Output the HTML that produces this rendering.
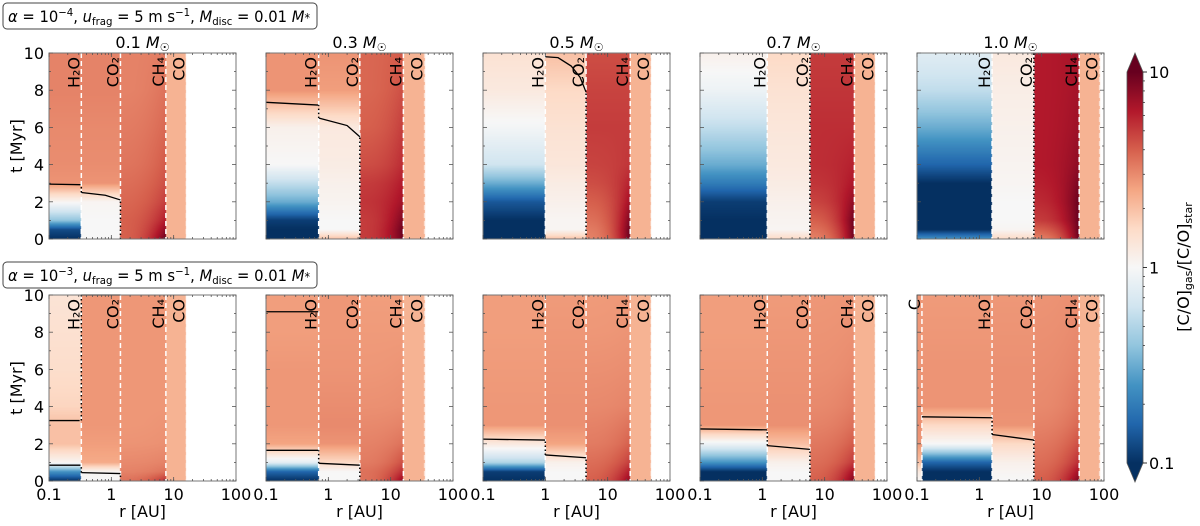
<!DOCTYPE html>
<html><head><meta charset="utf-8">
<style>
body{margin:0;background:#fff;width:1200px;height:526px;overflow:hidden;position:relative;font-family:"DejaVu Sans","Liberation Sans",sans-serif;}
canvas{position:absolute;}
svg{position:absolute;left:0;top:0;}
</style></head>
<body>
<div id="maps"></div>
<svg id="fig" width="1200" height="526"></svg>
<script>
// ---- data ----
const masses = ["0.1","0.3","0.5","0.7","1.0"];
const rowLabels = ["10^-4","10^-3"];
const tGrid = [0,0.5,1,2,3,4,6,8,10];
const xTicks = [0.1,1,10,100];
const xTickLabels = ["0.1","1","10","100"];
const yTicks = [0,2,4,6,8,10];
const cbTicks = [0.1,1,10];
const snowR = [
 [0.33,1.4,7.5,16],[0.7,3.2,16,35],[1.0,4.5,23,50],[1.2,5.8,30,65],[1.6,7.5,40,85],
 [0.33,1.4,7.5,16],[0.7,3.2,16,35],[1.0,4.5,23,50],[1.2,5.8,30,65],[0.12,1.6,7.5,40,85]
];
const snowNames = [
 ["H₂O","CO₂","CH₄","CO"],["H₂O","CO₂","CH₄","CO"],["H₂O","CO₂","CH₄","CO"],["H₂O","CO₂","CH₄","CO"],["H₂O","CO₂","CH₄","CO"],
 ["H₂O","CO₂","CH₄","CO"],["H₂O","CO₂","CH₄","CO"],["H₂O","CO₂","CH₄","CO"],["H₂O","CO₂","CH₄","CO"],["C","H₂O","CO₂","CH₄","CO"]
];
const regInner = [
 [[-1,-0.9,-0.4,0.02,0.45,0.47,0.48,0.5,0.5],[0,0,0,0.02,0.45,0.47,0.48,0.5,0.5],[0.6,0.6,0.6,0.58,0.56,0.54,0.52,0.5,0.5],[0.35,0.35,0.35,0.35,0.35,0.35,0.35,0.35,0.35]],
 [[-1,-1,-0.95,-0.5,-0.25,0,0.05,0.45,0.45],[0.3,0,0,0.03,0.05,0.08,0.1,0.42,0.45],[0.7,0.7,0.7,0.72,0.7,0.65,0.6,0.58,0.58],[0.35,0.35,0.35,0.35,0.35,0.35,0.35,0.35,0.35]],
 [[-1,-1,-1,-0.85,-0.5,-0.2,-0.02,0.1,0.15],[0.3,0.02,0.02,0.05,0.08,0.12,0.15,0.2,0.3],[0.5,0.52,0.55,0.6,0.65,0.68,0.7,0.68,0.65],[0.35,0.35,0.35,0.35,0.35,0.35,0.35,0.35,0.35]],
 [[-1,-1,-1,-0.95,-0.7,-0.5,-0.25,-0.05,0.05],[0.2,0.02,0.03,0.05,0.08,0.1,0.12,0.15,0.2],[0.5,0.55,0.6,0.68,0.72,0.74,0.74,0.72,0.7],[0.35,0.35,0.35,0.35,0.35,0.35,0.35,0.35,0.35]],
 [[-0.6,-1,-1,-1,-1,-0.8,-0.5,-0.25,-0.12],[0.2,0.02,0,0,0.02,0.03,0.05,0.07,0.1],[0.5,0.6,0.7,0.75,0.78,0.8,0.8,0.8,0.8],[0.35,0.35,0.35,0.35,0.35,0.35,0.35,0.35,0.35]],
 [[-1,-0.6,0.02,0.3,0.3,0.22,0.18,0.16,0.14],[0,0.02,0.38,0.42,0.44,0.44,0.44,0.44,0.44],[0.55,0.5,0.48,0.45,0.44,0.44,0.44,0.44,0.44],[0.35,0.35,0.35,0.35,0.35,0.35,0.35,0.35,0.35]],
 [[-1,-0.8,-0.1,0.4,0.44,0.44,0.44,0.42,0.42],[0,0,0.2,0.45,0.48,0.47,0.45,0.44,0.44],[0.55,0.55,0.52,0.5,0.48,0.46,0.44,0.43,0.42],[0.35,0.35,0.35,0.35,0.35,0.35,0.35,0.35,0.35]],
 [[-1,-0.95,-0.3,0.1,0.44,0.44,0.43,0.42,0.42],[0,0,0.05,0.4,0.46,0.46,0.45,0.44,0.43],[0.6,0.58,0.56,0.52,0.5,0.48,0.46,0.44,0.43],[0.35,0.35,0.35,0.35,0.35,0.35,0.35,0.35,0.35]],
 [[-1,-1,-0.6,-0.05,0.44,0.44,0.43,0.42,0.42],[0,0,0.05,0.3,0.46,0.46,0.45,0.44,0.43],[0.6,0.58,0.56,0.53,0.5,0.48,0.46,0.45,0.44],[0.35,0.35,0.35,0.35,0.35,0.35,0.35,0.35,0.35]],
 [[0,0.1,0.3,0.44,0.46,0.46,0.45,0.44,0.44],[-1,-1,-0.8,0,0.2,0.45,0.45,0.44,0.43],[0,0.02,0.05,0.2,0.45,0.46,0.46,0.45,0.44],[0.6,0.58,0.56,0.53,0.5,0.48,0.47,0.46,0.45],[0.35,0.35,0.35,0.35,0.35,0.35,0.35,0.35,0.35]]
];
const regOuter = [
 [null,null,[1,0.9,0.8,0.7,0.65,0.62,0.58,0.55,0.52],null],
 [null,null,[1,1,0.95,0.85,0.8,0.75,0.7,0.65,0.62],null],
 [null,null,[1,1,0.95,0.85,0.78,0.72,0.7,0.68,0.65],null],
 [null,null,[1,1,1,0.9,0.82,0.78,0.74,0.72,0.7],null],
 [null,null,[1,1,1,1,0.95,0.9,0.86,0.84,0.84],null],
 [null,null,[0.75,0.55,0.5,0.46,0.45,0.44,0.44,0.44,0.44],null],
 [null,null,[0.9,0.75,0.65,0.55,0.5,0.47,0.45,0.43,0.42],null],
 [null,null,[0.9,0.8,0.7,0.6,0.55,0.5,0.47,0.45,0.44],null],
 [null,null,[0.95,0.85,0.72,0.62,0.56,0.52,0.48,0.46,0.45],null],
 [null,null,null,[0.95,0.85,0.75,0.65,0.58,0.54,0.5,0.48,0.47],null]
];
const contours = [
 [[[0.1,2.95],[0.32,2.92]],[[0.33,2.5],[0.8,2.35],[1.4,2.1]]],
 [[[0.1,7.35],[0.69,7.2]],[[0.71,6.5],[2,6.1],[3.2,5.5]]],
 [[[1.0,9.8],[1.6,9.75],[2.6,9.3],[3.6,8.7],[4.5,7.9]]],
 [],
 [],
 [[[0.1,3.25],[0.31,3.25]],[[0.1,0.85],[0.32,0.85]],[[0.33,10],[1.4,10]],[[0.33,0.45],[1.4,0.4]]],
 [[[0.1,9.1],[0.69,9.1]],[[0.1,1.65],[0.69,1.65]],[[0.71,0.95],[3.2,0.85]]],
 [[[0.1,2.25],[0.99,2.2]],[[1.0,1.4],[4.5,1.25]]],
 [[[0.1,2.8],[1.19,2.75]],[[1.2,1.9],[5.8,1.7]]],
 [[[0.12,3.45],[1.59,3.4]],[[1.6,2.5],[7.5,2.2]]]
];
const dotted = [
 [[0.33,2.5,2.92],[1.4,0,2.1]],[[0.7,6.5,7.2],[3.2,0,5.5]],[[4.5,0,7.9]],[[5.8,0,10]],[[7.5,0,10]],
 [[0.33,3.25,10],[0.33,0.45,0.85],[1.4,0,0.4]],[[0.7,0.95,1.65],[3.2,0,0.85]],[[1.0,1.4,2.2],[4.5,0,1.25]],[[1.2,1.9,2.75],[5.8,0,1.7]],[[1.6,2.5,3.4],[7.5,0,2.2]]
];
// ---- geometry ----
const PX=[49,266,483,700,917], PY=[53,295], PW=187, PH=186;
function xs(p,r){return PX[p%5]+(Math.log10(r)+1)/3*PW;}
function ys(p,t){return PY[Math.floor(p/5)]+PH-t/10*PH;}
const cmapStops=["#053061","#2166ac","#4393c3","#92c5de","#d1e5f0","#f7f7f7","#fddbc7","#f4a582","#d6604d","#b2182b","#67001f"];
function hex(h){return [parseInt(h.substr(1,2),16),parseInt(h.substr(3,2),16),parseInt(h.substr(5,2),16)];}
const cst=cmapStops.map(hex);
function cmap(lv){let v=(lv+1)/2;v=Math.max(0,Math.min(1,v));const f=v*10,i=Math.min(9,Math.floor(f)),w=f-i;return cst[i].map((c,k)=>Math.round(c+(cst[i+1][k]-c)*w));}
function interpT(arr,t){for(let i=0;i<tGrid.length-1;i++){if(t<=tGrid[i+1]){const w=(t-tGrid[i])/(tGrid[i+1]-tGrid[i]);return arr[i]+(arr[i+1]-arr[i])*w;}}return arr[arr.length-1];}
const NS="http://www.w3.org/2000/svg";
const svg=document.getElementById('fig');
function el(tag,attrs,parent){const e=document.createElementNS(NS,tag);for(const k in attrs)e.setAttribute(k,attrs[k]);(parent||svg).appendChild(e);return e;}
function txt(s,attrs,parent){const e=el('text',attrs,parent);e.textContent=s;return e;}
const maps=document.getElementById('maps');
for(let p=0;p<10;p++){
  const cv=document.createElement('canvas');cv.width=PW;cv.height=PH;
  cv.style.left=PX[p%5]+'px';cv.style.top=PY[Math.floor(p/5)]+'px';
  
  
  maps.appendChild(cv);
  const ctx=cv.getContext('2d');const img=ctx.createImageData(PW,PH);
  const sr=snowR[p];
  for(let x=0;x<PW;x++){
    const lr=-1+3*(x+0.5)/PW, r=Math.pow(10,lr);
    let reg=0;while(reg<sr.length&&r>sr[reg])reg++;
    if(reg>=sr.length)continue;
    const lo=reg===0?-1:Math.log10(sr[reg-1]),hi=Math.log10(sr[reg]);
    const f=Math.pow((lr-lo)/(hi-lo),2.5);
    for(let y=0;y<PH;y++){
      const t=10*(1-(y+0.5)/PH);
      let v=interpT(regInner[p][reg],t);
      if(regOuter[p][reg]){const o=interpT(regOuter[p][reg],t);v=v+(o-v)*f;}
      const c=cmap(v);const i=(y*PW+x)*4;
      img.data[i]=c[0];img.data[i+1]=c[1];img.data[i+2]=c[2];img.data[i+3]=255;
    }
  }
  ctx.putImageData(img,0,0);
}
// ---- overlay ----
const FS=16;
for(let p=0;p<10;p++){
  const row=Math.floor(p/5),col=p%5,x0=PX[col],y0=PY[row];
  const g=el('g',{});
  
  
  snowR[p].forEach((r,i)=>{
    const x=xs(p,r);
    const ln=el('line',{x1:x,y1:y0,x2:x,y2:y0+PH,stroke:'#fff','stroke-width':1.5,'stroke-dasharray':'5,3','stroke-opacity':i===snowR[p].length-1?0.5:1},g);
    
    
    const tx=txt(snowNames[p][i],{x:0,y:0,'font-size':FS,fill:'#000','text-anchor':'end',transform:`translate(${x-2},${y0+4}) rotate(-90)`},g);
    
    
  });
  dotted[p].forEach(d=>{el('line',{x1:xs(p,d[0]),x2:xs(p,d[0]),y1:ys(p,d[1]),y2:ys(p,d[2]),stroke:'#000','stroke-width':1.5,'stroke-dasharray':'1.5,2.5'},g);});
  contours[p].forEach(seg=>{
    const c=el('polyline',{points:seg.map(q=>xs(p,q[0])+','+ys(p,q[1])).join(' '),fill:'none',stroke:'#000','stroke-width':1.3},g);
    
    
  });
  el('rect',{x:x0,y:y0,width:PW,height:PH,fill:'none',stroke:'#777','stroke-width':1},g);
  for(let d=-1;d<2;d++)for(let k=1;k<=10;k++){const r=k*Math.pow(10,d);const x=xs(p,r);const L=k===1?4:2;
    el('line',{x1:x,x2:x,y1:y0+PH,y2:y0+PH-L,stroke:'#555','stroke-width':0.8},g);
    el('line',{x1:x,x2:x,y1:y0,y2:y0+L,stroke:'#555','stroke-width':0.8},g);}
  for(let t=0;t<=10;t++){const y=ys(p,t);const L=t%2===0?4:2;
    el('line',{x1:x0,x2:x0+L,y1:y,y2:y,stroke:'#555','stroke-width':0.8},g);
    el('line',{x1:x0+PW,x2:x0+PW-L,y1:y,y2:y,stroke:'#555','stroke-width':0.8},g);}
  if(col===0){
    yTicks.forEach(t=>{const a=txt(String(t),{x:x0-5,y:ys(p,t)+6,'font-size':FS,'text-anchor':'end'},g);
      
      });
    const yl=txt('t [Myr]',{x:0,y:0,'font-size':FS,'text-anchor':'middle',transform:`translate(22,${y0+PH/2}) rotate(-90)`},g);
    
    
  }
  if(row===1){
    xTicks.forEach((r,i)=>{const a=txt(xTickLabels[i],{x:xs(p,r),y:y0+PH+19,'font-size':FS,'text-anchor':'middle'},g);
      
      });
    const xl=txt('r [AU]',{x:x0+PW/2,y:517,'font-size':FS,'text-anchor':'middle'},g);
    
    
  } else {
    const tt=el('text',{x:x0+PW/2,y:y0-5,'font-size':FS,'text-anchor':'middle'},g);
    tt.innerHTML=masses[col]+' <tspan font-style="italic">M</tspan><tspan font-size="11" dy="3">☉</tspan>';
    
    
  }
}
[[3,"−4"],[262,"−3"]].forEach((b,i)=>{
  const g=el('g',{});
  
  
  el('rect',{x:3,y:b[0],width:314,height:26,rx:4,fill:'#fff',stroke:'#444','stroke-width':1},g);
  const t=el('text',{x:8,y:b[0]+19,'font-size':16,textLength:302,lengthAdjust:'spacingAndGlyphs'},g);
  t.innerHTML='<tspan font-style="italic">α</tspan> = 10<tspan font-size="11" dy="-6">'+b[1]+'</tspan><tspan dy="6">, </tspan><tspan font-style="italic">u</tspan><tspan font-size="11" dy="3">frag</tspan><tspan dy="-3"> = 5 m s</tspan><tspan font-size="11" dy="-6">−1</tspan><tspan dy="6">, </tspan><tspan font-style="italic">M</tspan><tspan font-size="11" dy="3">disc</tspan><tspan dy="-3"> = 0.01 </tspan><tspan font-style="italic">M</tspan><tspan font-size="12">*</tspan>';
});
const cb=el('g',{});


const defs=el('defs',{},cb);
const lg=el('linearGradient',{id:'cbg',x1:0,y1:1,x2:0,y2:0},defs);
cmapStops.forEach((c,i)=>el('stop',{offset:i/10,'stop-color':c},lg));
const CX=1127,CW=16,CT=72,CB=463;
el('rect',{x:CX,y:CT,width:CW,height:CB-CT,fill:'url(#cbg)'},cb);
el('polygon',{points:`${CX},${CT} ${CX+CW/2},53 ${CX+CW},${CT}`,fill:'#67001f'},cb);
el('polygon',{points:`${CX},${CB} ${CX+CW/2},482 ${CX+CW},${CB}`,fill:'#053061'},cb);
el('polygon',{points:`${CX},${CT} ${CX+CW/2},53 ${CX+CW},${CT} ${CX+CW},${CB} ${CX+CW/2},482 ${CX},${CB}`,fill:'none',stroke:'#555','stroke-width':0.8},cb);
cbTicks.forEach(v=>{const y=CB-(Math.log10(v)+1)/2*(CB-CT);
  el('line',{x1:CX+CW,x2:CX+CW+4,y1:y,y2:y,stroke:'#000','stroke-width':0.8},cb);
  const a=txt(String(v),{x:CX+CW+6,y:y+6,'font-size':FS},cb);
  
  });
for(let d=-1;d<1;d++)for(let k=2;k<10;k++){const y=CB-(Math.log10(k*Math.pow(10,d))+1)/2*(CB-CT);el('line',{x1:CX+CW,x2:CX+CW+2,y1:y,y2:y,stroke:'#000','stroke-width':0.6},cb);}
const cl=el('text',{x:0,y:0,'font-size':FS,'text-anchor':'middle',transform:'translate(1189,267) rotate(-90)'},cb);
cl.innerHTML='[C/O]<tspan font-size="11" dy="3">gas</tspan><tspan dy="-3">/[C/O]</tspan><tspan font-size="11" dy="3">star</tspan>';


</script>
</body></html>
